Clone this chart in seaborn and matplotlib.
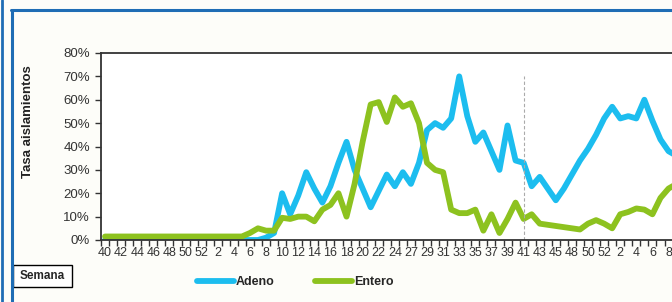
import pandas as pd
import matplotlib
matplotlib.use("Agg")
import matplotlib.pyplot as plt
from matplotlib.lines import Line2D
from matplotlib.patches import Rectangle
import seaborn as sns

# semanas epidemiologicas (eje x)
weeks = [40, 41, 42, 43, 44, 45, 46, 47, 48, 49, 50, 51, 52,
         1, 2, 3, 4, 5, 6, 7, 8, 9, 10, 11, 12, 13, 14, 15, 16, 17, 18, 19, 20,
         21, 22, 23, 24, 25, 27, 28, 29, 30, 31, 32, 33, 34, 35, 36, 37, 38, 39,
         40, 41, 42, 43, 44, 45, 46, 48, 49, 50, 51, 52,
         1, 2, 3, 4, 5, 6, 7, 8, 9]

# tasa de aislamientos (%)
adeno = [0, 0, 0, 0, 0, 0, 0, 0, 0, 0, 0, 0, 0,
         0, 0, 0, 0, 0, 0, 0, 1, 3, 20, 11, 19, 29, 22, 16, 23, 33, 42, 30, 22,
         14, 21, 28, 23, 29, 24, 33, 47, 50, 48, 52, 70, 53, 42, 46, 38, 30, 49,
         34, 33, 23, 27, 22, 17, 22, 28, 34, 39, 45, 52,
         57, 52, 53, 52, 60, 51, 43, 38, 36]
entero = [1.5, 1.5, 1.5, 1.5, 1.5, 1.5, 1.5, 1.5, 1.5, 1.5, 1.5, 1.5, 1.5,
          1.5, 1.5, 1.5, 1.5, 1.5, 3, 5, 4, 4, 9.5, 9, 10, 10, 8, 13, 15, 20, 10, 24, 42,
          58, 59, 50.5, 61, 57, 58.5, 50, 33, 30, 29, 13, 11.5, 11.5, 13, 4, 11, 3, 9,
          16, 9, 11, 7, 6.5, 6, 5.5, 5, 4.5, 7, 8.5, 7,
          5, 11, 12, 13.5, 13, 11, 18, 22, 24]

df = pd.DataFrame({"pos": range(len(weeks)), "Adeno": adeno, "Entero": entero})

sns.set_style("ticks")
plt.rcParams["font.family"] = ["Liberation Sans", "DejaVu Sans"]

blue = "#1cbdef"
green = "#8dc21f"
frame = "#1f6db5"
txt = "#333333"

fig = plt.figure(figsize=(6.72, 3.02), dpi=100, facecolor="#fdfdf9")
step = 8.05 / 672
n_show = len(weeks) + 2
ax = fig.add_axes([101 / 672, 62 / 302, step * n_show, 187 / 302])
ax.set_facecolor("white")

sns.lineplot(data=df, x="pos", y="Adeno", color=blue, lw=4.2, ax=ax, label="Adeno",
             solid_joinstyle="round", solid_capstyle="round")
sns.lineplot(data=df, x="pos", y="Entero", color=green, lw=4.2, ax=ax, label="Entero",
             solid_joinstyle="round", solid_capstyle="round")

ax.axvline(weeks.index(41, 13), ymin=0, ymax=0.875, color="#aaaaaa", lw=0.8, ls=(0, (3, 2)))

ax.set_xlim(-0.5, n_show - 0.5)
ax.set_ylim(0, 80)
ax.set_yticks(range(0, 81, 10))
ax.set_yticklabels([f"{v}%" for v in range(0, 81, 10)])
ax.set_xticks(range(0, len(weeks), 2))
ax.set_xticklabels([str(w) for w in weeks[::2]])
ax.set_xticks([p - 0.5 for p in range(len(weeks) + 2)], minor=True)
ax.tick_params(axis="x", which="major", length=0, pad=5, labelsize=9, colors=txt)
ax.tick_params(axis="x", which="minor", length=4, width=1, color=txt, direction="out")
ax.tick_params(axis="y", length=4, width=1, pad=4, labelsize=9.5, colors=txt)
ax.set_xlabel("")
ax.set_ylabel("")
for s in ["left", "bottom", "top"]:
    ax.spines[s].set_color(txt)
    ax.spines[s].set_linewidth(1.3)
ax.spines["right"].set_visible(False)

ax.legend(ncol=2, loc="center", bbox_to_anchor=(295 / 672, 1 - 282 / 302),
          bbox_transform=fig.transFigure, frameon=False,
          handlelength=3.0, handletextpad=0.15, columnspacing=3.2,
          prop={"weight": "bold", "size": 9})

fig.text(28 / 672, 1 - 122 / 302, "Tasa aislamientos", rotation=90, ha="center",
         va="center", fontsize=9.5, fontweight="bold", color="#222222")

fig.add_artist(Rectangle((13 / 672, 1 - 287 / 302), 59 / 672, 22 / 302,
                         transform=fig.transFigure, fc="white", ec="black", lw=1))
fig.text(42 / 672, 1 - 276 / 302, "Semana", ha="center", va="center",
         fontsize=8.5, fontweight="bold")

# marco azul
fig.add_artist(Line2D([2 / 672, 2 / 672], [0, 1], transform=fig.transFigure, color=frame, lw=2))
fig.add_artist(Line2D([11.5 / 672, 11.5 / 672], [0, 1 - 9.5 / 302], transform=fig.transFigure,
                      color=frame, lw=2.2))
fig.add_artist(Line2D([10.5 / 672, 1], [1 - 10 / 302, 1 - 10 / 302], transform=fig.transFigure,
                      color=frame, lw=2.2))

fig.savefig("out.png", dpi=100, facecolor=fig.get_facecolor())
